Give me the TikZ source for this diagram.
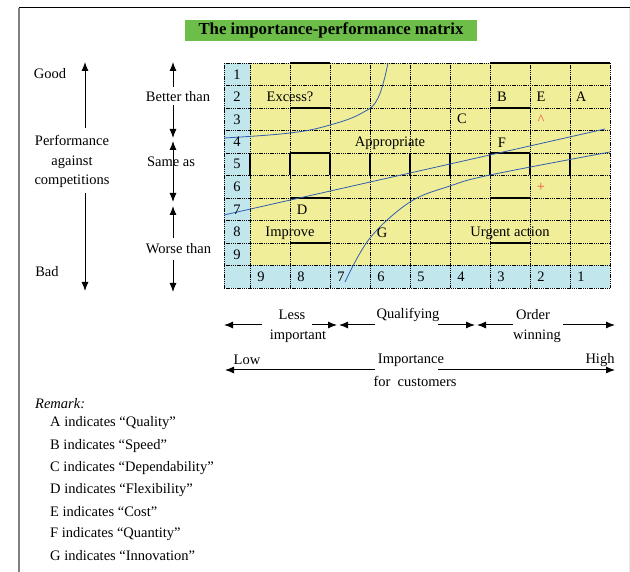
\documentclass[tikz,border=0pt]{standalone}
\usepackage{fontspec}
\setmainfont{Liberation Serif}
\usetikzlibrary{arrows.meta}

\definecolor{cellyellow}{RGB}{241,238,153}
\definecolor{cellblue}{RGB}{193,230,236}
\definecolor{titlegreen}{RGB}{108,190,72}
\definecolor{curveblue}{RGB}{48,94,176}
\definecolor{markred}{RGB}{230,80,60}

\tikzset{
  lbl/.style={inner sep=1pt, font=\fontsize{14.5}{17}\selectfont},
  redmark/.style={inner sep=1pt, text=markred, font=\fontsize{14.5}{17}\selectfont},
  cellline/.style={line width=0.8pt, dash pattern=on 1.4pt off 0.8pt},
  boldline/.style={line width=1.3pt},
  tip/.tip={Latex[length=9pt,width=7pt]},
  arr/.style={-tip, line width=1pt},
  curve/.style={curveblue, line width=0.8pt},
}

\begin{document}
\begin{tikzpicture}[x=1pt,y=-1pt]

      \useasboundingbox (0,0) rectangle (630,572);

      % page frame
      \draw[line width=1pt] (19,8) -- (630,8);
      \draw[gray, line width=1.2pt] (19,8) -- (19,572);
      \draw[black!8, line width=1pt] (629,8) -- (629,572);

      % title
      \node[fill=titlegreen, minimum width=292pt, minimum height=21pt, inner sep=0pt,
            font=\fontsize{16.8}{19}\selectfont\bfseries] (title) at (331,30.5)
            {The importance-performance matrix};

      % matrix cells
      \fill[cellyellow] (250,63) rectangle (610,265.5);
      \fill[cellblue] (224,63) rectangle (250,288);
      \fill[cellblue] (250,265.5) rectangle (610,288);
      \foreach \x in {224,250,290,330,370,410,450,490,530,570,610}
        \draw[cellline] (\x,63) -- (\x,288);
      \foreach \y in {63,85.5,108,130.5,153,175.5,198,220.5,243,265.5,288}
        \draw[cellline] (224,\y) -- (610,\y);
      \foreach \y in {108,153,198,243}
        \draw[boldline] (290,\y) -- (330,\y) (490,\y) -- (530,\y);
      \draw[boldline] (290,63) -- (330,63) (490,63) -- (610,63);
      \foreach \x in {250,290,330,370,410,450,490,530,570}
        \draw[boldline] (\x,153) -- (\x,175.5);

      % curves
      \draw[curve] plot[smooth, tension=0.7] coordinates
        {(224,138) (290,133) (330,125) (362,113) (378,98) (388,63)};
      \draw[curve] (224,215) -- (605,129);
      \draw[curve] plot[smooth, tension=0.6] coordinates
        {(345,282) (370,238) (410,202) (450,186) (490,175) (610,152)};

      \begin{scope}[every node/.style={lbl}]
        % row numbers
        \node (r1) at (237,74.3) {1};
        \node (r2) at (237,96.8) {2};
        \node (r3) at (237,119.3) {3};
        \node (r4) at (237,141.8) {4};
        \node (r5) at (237,164.3) {5};
        \node (r6) at (237,186.8) {6};
        \node (r7) at (237,209.3) {7};
        \node (r8) at (237,231.8) {8};
        \node (r9) at (237,254.3) {9};
        % column numbers
        \node (c9) at (261,277) {9};
        \node (c8) at (301,277) {8};
        \node (c7) at (341,277) {7};
        \node (c6) at (381,277) {6};
        \node (c5) at (421,277) {5};
        \node (c4) at (461,277) {4};
        \node (c3) at (501,277) {3};
        \node (c2) at (541,277) {2};
        \node (c1) at (581,277) {1};
        % cell texts
        \node (excess)  at (290,97)  {Excess?};
        \node (b)       at (502,97)  {B};
        \node (e)       at (541,97)  {E};
        \node (a)       at (581,97)  {A};
        \node (c)       at (462,119) {C};
        \node[redmark] (hat) at (541,120) {\textasciicircum};
        \node (appr)    at (390,143) {Appropriate};
        \node (f)       at (502,143) {F};
        \node[redmark] (plus) at (541,187) {+};
        \node (d)       at (302,210) {D};
        \node (improve) at (290,233) {Improve};
        \node (g)       at (382,233) {G};
        \node (urgent)  at (510,233) {Urgent action};

        % performance axis
        \node (good)   at (50,74)   {Good};
        \node (perf)   at (72,140)  {Performance};
        \node (agst)   at (72,162)  {against};
        \node (comp)   at (72,181)  {competitions};
        \node (bad)    at (47,272)  {Bad};
        \node (better) at (178,97)  {Better than};
        \node (worse)  at (178.5,249) {Worse than};

        % importance axis
        \node (less)    at (292,315) {Less};
        \node (imp)     at (298,336) {important};
        \node (qual)    at (408,315) {Qualifying};
        \node (order)   at (533,315) {Order};
        \node (winning) at (537,336) {winning};
        \node (low)     at (247,360) {Low};
        \node (importance) at (411,360) {Importance};
        \node (high)    at (600,360) {High};
        \node (forcust) at (415,381) {for~ customers};
      \end{scope}

      % arrow end points
      \coordinate (goodtip)  at (85,62);
      \coordinate (goodtail) at (85,128);
      \coordinate (badtail)  at (85,193);
      \coordinate (badtip)   at (85,291);
      \coordinate (bt1) at (173,87);  \coordinate (bt2) at (173,62);
      \coordinate (bt3) at (173,105); \coordinate (bt4) at (173,138);
      \coordinate (sa1) at (173,141); \coordinate (sa2) at (173,202);
      \coordinate (wt1) at (173,238); \coordinate (wt2) at (173,206);
      \coordinate (wt3) at (173,260); \coordinate (wt4) at (173,292);

      \coordinate (li1) at (262,325); \coordinate (li2) at (224,325);
      \coordinate (li3) at (312,325); \coordinate (li4) at (337,325);
      \coordinate (qu1) at (375,325); \coordinate (qu2) at (339,325);
      \coordinate (qu3) at (438,325); \coordinate (qu4) at (475,325);
      \coordinate (ow1) at (513,325); \coordinate (ow2) at (477,325);
      \coordinate (ow3) at (563,325); \coordinate (ow4) at (615,325);
      \coordinate (im1) at (375,370); \coordinate (im2) at (225,370);
      \coordinate (im3) at (438,370); \coordinate (im4) at (615,370);

      \begin{scope}[every path/.style={arr}]
        \draw (goodtail) -- (goodtip);
        \draw (badtail) -- (badtip);
        \draw (bt1) -- (bt2);
        \draw (bt3) -- (bt4);
        \draw[tip-tip] (sa1) -- (sa2);
        \draw (wt1) -- (wt2);
        \draw (wt3) -- (wt4);
        \draw (li1) -- (li2);
        \draw (li3) -- (li4);
        \draw (qu1) -- (qu2);
        \draw (qu3) -- (qu4);
        \draw (ow1) -- (ow2);
        \draw (ow3) -- (ow4);
        \draw (im1) -- (im2);
        \draw (im3) -- (im4);
      \end{scope}

      \node[lbl] (same) at (171,162) {Same as};

      % remark
      \begin{scope}[every node/.style={lbl, anchor=west}]
        \node[font=\fontsize{14.5}{17}\selectfont\itshape] (remark) at (34,404) {Remark:};
        \node (ra) at (49,423) {A indicates “Quality”};
        \node (rb) at (49,446) {B indicates “Speed”};
        \node (rc) at (49,468) {C indicates “Dependability”};
        \node (rd) at (49,490) {D indicates “Flexibility”};
        \node (re) at (49,512) {E indicates “Cost”};
        \node (rf) at (49,534) {F indicates “Quantity”};
        \node (rg) at (49,556) {G indicates “Innovation”};
      \end{scope}

    \end{tikzpicture}
\end{document}
